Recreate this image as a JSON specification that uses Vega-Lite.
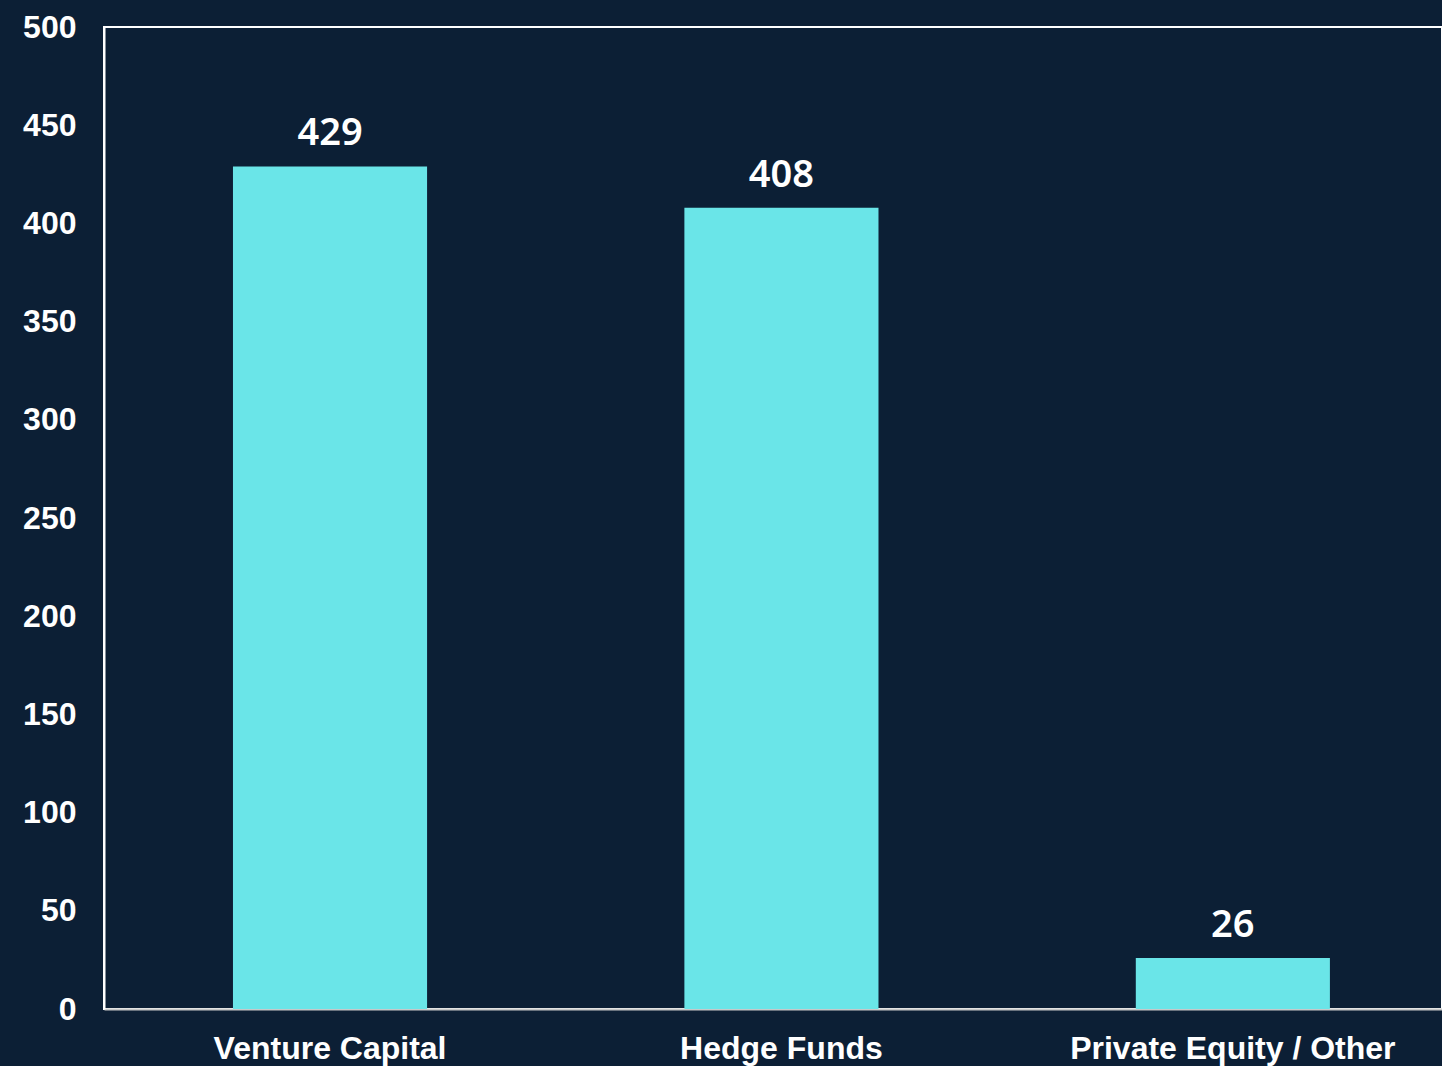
{
  "$schema": "https://vega.github.io/schema/vega-lite/v6.json",
  "width": 1338,
  "height": 982,
  "autosize": {"type": "none"},
  "padding": {"left": 104, "top": 27, "right": 0, "bottom": 57},
  "background": "#0c1f35",
  "config": {
    "view": {"stroke": "#ffffff", "strokeWidth": 2, "fill": "#0c1f35"}
  },
  "data": {
    "values": [
      {"category": "Venture Capital", "value": 429},
      {"category": "Hedge Funds", "value": 408},
      {"category": "Private Equity / Other", "value": 26}
    ]
  },
  "encoding": {
    "x": {
      "field": "category",
      "type": "nominal",
      "sort": null,
      "scale": {"paddingInner": 0.57, "paddingOuter": 0.267, "align": 0.535},
      "axis": {
        "title": null,
        "labelAngle": 0,
        "labelLimit": 0,
        "labelFont": "Liberation Sans",
        "labelFontWeight": "bold",
        "labelFontSize": 32,
        "labelColor": "#ffffff",
        "labelPadding": 24,
        "ticks": false,
        "tickSize": 0,
        "domainColor": "#c8c8c8",
        "domainWidth": 2,
        "grid": false
      }
    },
    "y": {
      "field": "value",
      "type": "quantitative",
      "scale": {"domain": [0, 500], "nice": false},
      "axis": {
        "title": null,
        "values": [0, 50, 100, 150, 200, 250, 300, 350, 400, 450, 500],
        "labelFont": "Liberation Sans",
        "labelFontWeight": "bold",
        "labelFontSize": 32,
        "labelColor": "#ffffff",
        "labelPadding": 28,
        "ticks": false,
        "tickSize": 0,
        "domainColor": "#ffffff",
        "domainWidth": 2,
        "grid": false
      }
    }
  },
  "layer": [
    {"mark": {"type": "bar", "color": "#6ae5e8"}},
    {
      "mark": {
        "type": "text",
        "font": "Noto Sans",
        "fontWeight": 600,
        "fontSize": 38,
        "color": "#ffffff",
        "baseline": "alphabetic",
        "dy": -21
      },
      "encoding": {"text": {"field": "value", "type": "quantitative"}}
    }
  ]
}
